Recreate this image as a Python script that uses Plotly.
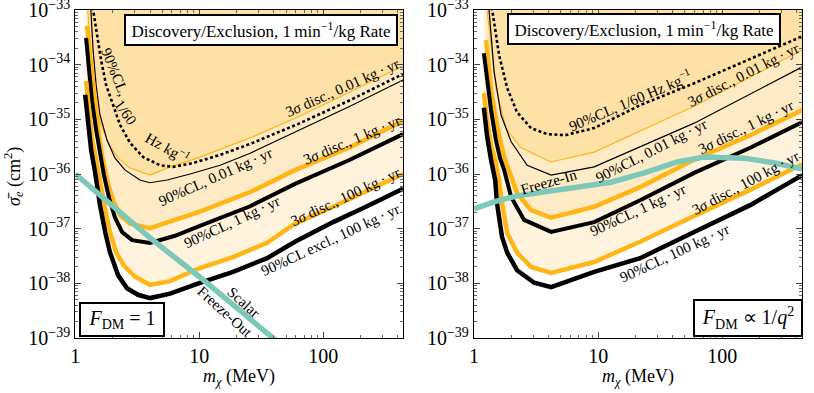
import numpy as np
import plotly.graph_objects as go

# ---------------- data (mass in MeV, log10 of sigma_e in cm^2) ----------------
# Left panel: F_DM = 1
L_orange100_m = [1.22, 1.29, 1.36, 1.47, 1.58, 1.74, 1.90, 2.13, 2.47, 3.03, 4.0, 5.81, 10.1, 18.7, 35.2, 59.1, 120, 225, 439]
L_orange100_s = [-34.30, -34.83, -35.34, -35.74, -36.15, -36.66, -37.06, -37.43, -37.68, -37.88, -38.03, -37.96, -37.72, -37.52, -37.26, -36.91, -36.60, -36.31, -36.00]
L_black100_m = [1.20, 1.265, 1.34, 1.44, 1.58, 1.74, 1.90, 2.21, 2.61, 3.20, 4.0, 5.81, 10.1, 18.7, 35.2, 59.1, 120, 225, 439]
L_black100_s = [-34.55, -35.10, -35.56, -35.96, -36.57, -37.06, -37.43, -37.85, -38.09, -38.21, -38.27, -38.19, -37.99, -37.79, -37.54, -37.24, -36.88, -36.59, -36.27]
L_orange1_m = [1.24, 1.315, 1.39, 1.50, 1.64, 1.80, 2.01, 2.29, 2.76, 4.0, 6.37, 10.1, 25.7, 59.1, 164, 439]
L_orange1_s = [-33.29, -33.88, -34.46, -35.05, -35.65, -36.11, -36.48, -36.75, -36.91, -36.99, -36.84, -36.69, -36.33, -35.93, -35.51, -35.03]
L_black1_m = [1.22, 1.29, 1.36, 1.47, 1.58, 1.70, 1.87, 2.09, 2.38, 2.87, 4.0, 6.37, 10.1, 25.7, 59.1, 164, 439]
L_black1_s = [-33.51, -34.10, -34.65, -35.19, -35.65, -36.02, -36.44, -36.80, -37.06, -37.21, -37.26, -37.13, -36.95, -36.59, -36.18, -35.74, -35.27]
L_thin_orange_m = [1.255, 1.315, 1.36, 1.44, 1.58, 1.84, 2.21, 2.76, 4.0, 5.81, 10.1, 25.7, 64.9, 164, 439]
L_thin_orange_s = [-32.95, -33.55, -34.10, -34.65, -35.05, -35.43, -35.71, -35.89, -36.02, -35.87, -35.69, -35.34, -34.94, -34.50, -34.02]
L_thin_black_m = [1.33, 1.39, 1.47, 1.58, 1.80, 2.09, 2.52, 3.32, 4.0, 5.49, 8.42, 14.7, 25.7, 64.9, 164, 439]
L_thin_black_s = [-32.95, -33.73, -34.37, -34.92, -35.38, -35.71, -35.93, -36.11, -36.16, -36.11, -36.00, -35.84, -35.62, -35.19, -34.76, -34.28]
L_dotted_m = [1.38, 1.50, 1.61, 1.77, 2.01, 2.29, 2.76, 3.52, 4.82, 6.14, 8.89, 14.7, 25.7, 64.9, 164, 439]
L_dotted_s = [-32.95, -33.46, -33.91, -34.37, -34.74, -35.10, -35.43, -35.69, -35.84, -35.87, -35.80, -35.65, -35.45, -35.07, -34.65, -34.17]
L_teal_m = [1.0, 2.0, 4.0, 10.0, 20.0, 40.0, 50.0]
L_teal_s = [-36.00, -36.58, -37.17, -37.88, -38.45, -39.03, -39.20]

# Right panel: F_DM ~ 1/q^2
R_orange100_m = [1.20, 1.27, 1.37, 1.48, 1.59, 1.68, 1.85, 2.22, 2.88, 4.18, 9.29, 21.8, 59.4, 168, 442]
R_orange100_s = [-34.52, -35.01, -35.47, -35.74, -36.11, -36.53, -37.08, -37.44, -37.70, -37.81, -37.61, -37.24, -36.77, -36.29, -35.82]
R_black100_m = [1.20, 1.27, 1.37, 1.48, 1.53, 1.68, 1.85, 2.22, 3.05, 4.18, 9.29, 21.8, 59.4, 168, 442]
R_black100_s = [-34.79, -35.29, -35.74, -36.11, -36.53, -37.15, -37.44, -37.76, -37.99, -38.07, -37.79, -37.54, -37.06, -36.57, -36.02]
R_orange1_m = [1.25, 1.30, 1.37, 1.48, 1.62, 1.78, 1.92, 2.22, 2.88, 4.18, 9.29, 21.8, 59.4, 168, 442]
R_orange1_s = [-33.55, -33.91, -34.46, -34.92, -35.38, -35.74, -35.93, -36.35, -36.66, -36.80, -36.60, -36.24, -35.74, -35.29, -34.83]
R_black1_m = [1.20, 1.27, 1.37, 1.50, 1.62, 1.75, 1.99, 2.53, 4.18, 9.29, 21.8, 59.4, 168, 442]
R_black1_s = [-33.79, -34.28, -34.83, -35.38, -35.71, -35.93, -36.42, -36.84, -37.06, -36.88, -36.48, -35.98, -35.52, -35.05]
R_thin_orange_m = [1.265, 1.35, 1.50, 1.81, 2.39, 4.18, 9.29, 59.4, 442]
R_thin_orange_s = [-32.95, -33.55, -34.43, -35.16, -35.52, -35.78, -35.60, -34.76, -33.73]
R_thin_black_m = [1.315, 1.45, 1.65, 1.99, 2.68, 4.18, 9.29, 59.4, 442]
R_thin_black_s = [-32.95, -34.13, -34.92, -35.41, -35.84, -36.02, -35.87, -35.07, -34.04]
R_dotted_m = [1.39, 1.59, 1.85, 2.22, 2.88, 3.88, 5.42, 9.29, 21.8, 59.4, 442]
R_dotted_s = [-32.95, -33.82, -34.43, -34.87, -35.16, -35.27, -35.29, -35.16, -34.74, -34.34, -33.48]
R_teal_m = [1.0, 1.45, 2.22, 4.67, 7.71, 12.7, 23.5, 43.4, 71.6, 150, 267, 442]
R_teal_s = [-36.64, -36.51, -36.40, -36.29, -36.24, -36.15, -35.98, -35.78, -35.69, -35.71, -35.80, -35.91]

x_ticks = [1, 10, 100]
x_ticklabels = ["1", "10", "100"]
y_exps = [-39, -38, -37, -36, -35, -34, -33]

# ---------------- styles ----------------
ORANGE = "#FFB515"
TEAL = "#7DC9B9"
FILL_LIGHT = "#FFF3DE"
FILL_MED = "#FEEBC6"
FILL_DARK = "#FDE1A6"
FONT = "Liberation Serif"
TOP = -32.0

W, H = 814, 393
fig = go.Figure()


def s10(v):
    return list(10.0 ** np.array(v, dtype=float))


def fill(m, s, color, xa, ya):
    x = list(m) + [m[-1], m[0]]
    y = s10(list(s) + [TOP, TOP])
    fig.add_trace(go.Scatter(x=x, y=y, fill="toself", fillcolor=color, mode="none",
                             hoverinfo="skip", showlegend=False, xaxis=xa, yaxis=ya))


def line(m, s, color, width, xa, ya, dash=None):
    fig.add_trace(go.Scatter(x=m, y=s10(s), mode="lines",
                             line=dict(color=color, width=width, dash=dash),
                             hoverinfo="skip", showlegend=False, xaxis=xa, yaxis=ya))


panels = [
    ("x", "y", dict(o100=(L_orange100_m, L_orange100_s), b100=(L_black100_m, L_black100_s),
                    o1=(L_orange1_m, L_orange1_s), b1=(L_black1_m, L_black1_s),
                    to=(L_thin_orange_m, L_thin_orange_s), tb=(L_thin_black_m, L_thin_black_s),
                    dt=(L_dotted_m, L_dotted_s), te=(L_teal_m, L_teal_s))),
    ("x2", "y2", dict(o100=(R_orange100_m, R_orange100_s), b100=(R_black100_m, R_black100_s),
                      o1=(R_orange1_m, R_orange1_s), b1=(R_black1_m, R_black1_s),
                      to=(R_thin_orange_m, R_thin_orange_s), tb=(R_thin_black_m, R_thin_black_s),
                      dt=(R_dotted_m, R_dotted_s), te=(R_teal_m, R_teal_s))),
]

for xa, ya, d in panels:
    fill(*d["o100"], FILL_LIGHT, xa, ya)
    fill(*d["o1"], FILL_MED, xa, ya)
    fill(*d["to"], FILL_DARK, xa, ya)
    line(*d["to"], ORANGE, 1.2, xa, ya)
    line(*d["tb"], "black", 1.2, xa, ya)
    line(*d["dt"], "black", 2.6, xa, ya, dash="3px,2.5px")
    line(*d["o1"], ORANGE, 4.5, xa, ya)
    line(*d["b1"], "black", 4.0, xa, ya)
    line(*d["o100"], ORANGE, 4.5, xa, ya)
    line(*d["b100"], "black", 4.5, xa, ya)
    line(*d["te"], TEAL, 5.5, xa, ya)

minor_y = [k * 10.0 ** e for e in range(-39, -33) for k in range(2, 10)]
minor_x = [k * 10.0 ** e for e in range(0, 3) for k in range(2, 10)]

xdoms = [[75.3 / W, 403.3 / W], [474.0 / W, 802.3 / W]]
axis_common = dict(type="log", showline=True, linecolor="black", linewidth=1.3, mirror="allticks",
                   ticks="inside", ticklen=6, tickwidth=1, tickcolor="#444", showgrid=False,
                   zeroline=False, automargin=False, ticklabeloverflow="allow",
                   tickfont=dict(family=FONT, size=20, color="black"))

layout = dict(width=W, height=H, margin=dict(l=0, r=0, t=10, b=55),
              paper_bgcolor="white", plot_bgcolor="white", showlegend=False)
for i, (xa, ya) in enumerate([("xaxis", "yaxis"), ("xaxis2", "yaxis2")]):
    layout[xa] = dict(axis_common, domain=xdoms[i], range=[-0.0005, 2.645], anchor=("y" if i == 0 else "y2"),
                      tickmode="array", tickvals=x_ticks, ticktext=x_ticklabels,
                      minor=dict(tickmode="array", tickvals=minor_x, ticks="inside", ticklen=3,
                                 tickcolor="#666", showgrid=False))
    layout[ya] = dict(axis_common, domain=[0, 1], range=[-39.0005, -32.9995], anchor=("x" if i == 0 else "x2"),
                      tickmode="array", tickvals=[10.0 ** e for e in y_exps],
                      ticktext=["10<sup>\u2212%d</sup>" % (-e) for e in y_exps],
                      minor=dict(tickmode="array", tickvals=minor_y, ticks="inside", ticklen=3,
                                 tickcolor="#666", showgrid=False))
fig.update_layout(**layout)

ann = []


def lab(text, xa, ya, lx, ly, ang, size=15):
    ann.append(dict(text=text, xref=xa, yref=ya, x=lx, y=ly, textangle=ang, showarrow=False,
                    xanchor="center", yanchor="middle",
                    font=dict(family=FONT, size=size, color="black")))


def pann(text, px, py, size, ang=0, box=None):
    d = dict(text=text, xref="paper", yref="paper", x=px / W, y=(338 - py) / 328,
             xanchor="center", yanchor="middle", textangle=ang, showarrow=False,
             font=dict(family=FONT, size=size, color="black"))
    if box:
        d.update(bgcolor="white", bordercolor="black", borderwidth=2, borderpad=3, width=box)
    ann.append(d)


KGYR = " kg\u2009\u00b7\u2009yr"
# left panel labels (positions in log10 axis units)
lab("90%CL,", "x", "y", 0.320, -34.13, 68)
lab("1/60", "x", "y", 0.401, -34.87, 55)
lab("Hz kg<sup>\u22121</sup>", "x", "y", 0.740, -35.51, 30)
lab("3<i>\u03c3</i> disc., 0.01" + KGYR, "x", "y", 2.151, -34.42, -24)
lab("90%CL, 0.01" + KGYR, "x", "y", 1.127, -36.05, -24)
lab("3<i>\u03c3</i> disc., 1" + KGYR, "x", "y", 2.232, -35.38, -23)
lab("90%CL, 1" + KGYR, "x", "y", 1.264, -36.88, -25)
lab("3<i>\u03c3</i> disc., 100" + KGYR, "x", "y", 2.175, -36.42, -25)
lab("90%CL excl., 100" + KGYR, "x", "y", 2.055, -37.21, -25)
lab("Scalar", "x", "y", 1.354, -38.34, 42)
lab("Freeze-Out", "x", "y", 1.208, -38.52, 42)
# right panel labels
lab("90%CL, 1/60 Hz kg<sup>\u22121</sup>", "x2", "y2", 1.258, -34.65, -23)
lab("3<i>\u03c3</i> disc., 0.01" + KGYR, "x2", "y2", 2.169, -34.19, -27)
lab("90%CL, 0.01" + KGYR, "x2", "y2", 1.427, -35.58, -27)
lab("Freeze-In", "x2", "y2", 0.605, -36.15, -16)
lab("3<i>\u03c3</i> disc., 1" + KGYR, "x2", "y2", 2.194, -35.14, -26)
lab("90%CL, 1" + KGYR, "x2", "y2", 1.323, -36.66, -25)
lab("3<i>\u03c3</i> disc., 100" + KGYR, "x2", "y2", 2.185, -36.16, -28)
lab("90%CL, 100" + KGYR, "x2", "y2", 1.619, -37.44, -25)

# boxed labels
box_text = "Discovery/Exclusion, 1\u2009min<sup>\u22121</sup>/kg Rate"
pann(box_text, 260.5, 29.5, 17, box=264)
pann(box_text, 643.5, 29.0, 17, box=264)
pann("<i>F</i><sub>DM</sub> = 1", 121.5, 319, 20, box=76)
pann("<i>F</i><sub>DM</sub> \u221d 1/<i>q</i><sup>2</sup>", 748, 317.5, 20, box=100)

# axis titles
pann("<i>\u03c3\u0304</i><sub><i>e</i></sub> (cm<sup>2</sup>)", 13, 177, 18, ang=-90)
pann("<i>m</i><sub><i>\u03c7</i></sub> (MeV)", 239, 377, 18)
pann("<i>m</i><sub><i>\u03c7</i></sub> (MeV)", 638, 377, 18)

fig.update_layout(annotations=ann)
fig.write_html("out.html", config={"displayModeBar": False},
               post_script="document.body.style.margin='0';")
